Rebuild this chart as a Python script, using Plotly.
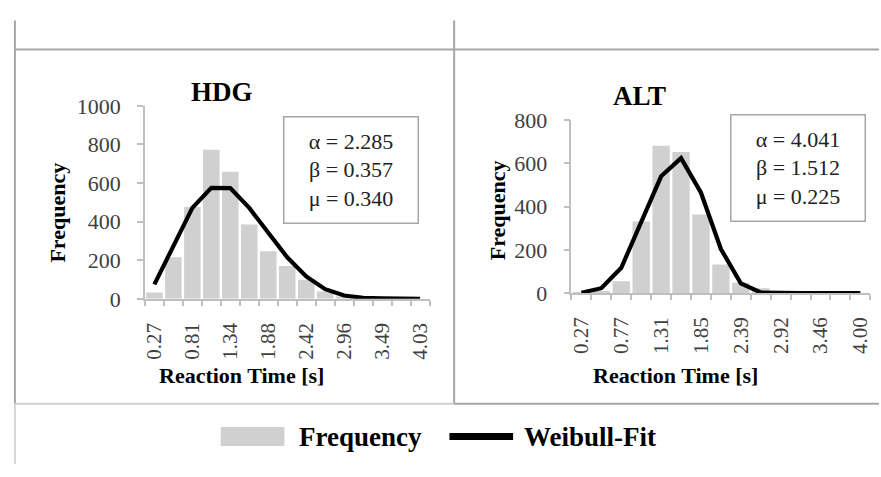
import plotly.graph_objects as go

# ---------------- data ----------------
hdg_times = ["0.27", "0.54", "0.81", "1.07", "1.34", "1.61", "1.88", "2.15",
             "2.42", "2.69", "2.96", "3.22", "3.49", "3.76", "4.03"]
hdg_freq = [33, 215, 476, 773, 658, 385, 246, 170, 99, 38, 12, 4, 1, 0, 0]
hdg_fit = [75, 273, 471, 575, 574, 471, 339, 215, 116, 50, 17, 5, 2, 1, 0]
hdg_params = ["α = 2.285", "β = 0.357", "μ = 0.340"]

alt_times = ["0.27", "0.52", "0.77", "1.04", "1.31", "1.58", "1.85", "2.12",
             "2.39", "2.65", "2.92", "3.19", "3.46", "3.73", "4.00"]
alt_freq = [2, 10, 55, 331, 681, 652, 363, 132, 48, 23, 3, 0, 0, 0, 0]
alt_fit = [2, 23, 117, 325, 540, 624, 464, 204, 45, 3, 0, 0, 0, 0, 0]
alt_params = ["α = 4.041", "β = 1.512", "μ = 0.225"]

W, H = 881, 477
FONT = "Liberation Serif"
BAR_COLOR = "#d0d0d0"
AXIS_COLOR = "#bfbfbf"
BORDER = "#a6a6a6"


def px(x):
    return x / W


def py(y):
    return 1 - y / H


fig = go.Figure()

panels = [
    dict(times=hdg_times, freq=hdg_freq, fit=hdg_fit, xa="x", ya="y"),
    dict(times=alt_times, freq=alt_freq, fit=alt_fit, xa="x2", ya="y2"),
]
for p in panels:
    pos = list(range(1, len(p["times"]) + 1))
    fig.add_trace(go.Bar(x=pos, y=p["freq"], marker_color=BAR_COLOR,
                         marker_line_width=0, name="Frequency",
                         showlegend=False, xaxis=p["xa"], yaxis=p["ya"],
                         hovertext=p["times"]))
    fig.add_trace(go.Scatter(x=pos, y=p["fit"], mode="lines",
                             line=dict(color="black", width=4.2),
                             name="Weibull-Fit", showlegend=False,
                             xaxis=p["xa"], yaxis=p["ya"],
                             hovertext=p["times"]))


def xaxis_cfg(times, domain):
    n = len(times)
    return dict(
        domain=domain, range=[0.5, n + 0.5], showgrid=False, zeroline=False,
        showline=True, linecolor=AXIS_COLOR, linewidth=1.5,
        tickmode="array", tickvals=list(range(1, n + 1, 2)),
        ticktext=times[::2], ticks="", tickangle=-90,
        ticklabelstandoff=14,
        tickfont=dict(family=FONT, size=21, color="#404040"),
        minor=dict(tickmode="array",
                   tickvals=[i + 0.5 for i in range(0, n + 1)],
                   ticks="outside", ticklen=5, tickcolor=AXIS_COLOR,
                   tickwidth=1.5, showgrid=False),
        fixedrange=True,
    )


def yaxis_cfg(maxv, domain, anchor):
    return dict(
        domain=domain, range=[0, maxv], dtick=200, anchor=anchor,
        showgrid=False, zeroline=False, showline=True,
        linecolor=AXIS_COLOR, linewidth=1.5,
        ticks="outside", ticklen=6, tickcolor=AXIS_COLOR, tickwidth=1.5,
        ticklabelstandoff=12,
        tickfont=dict(family=FONT, size=22, color="#404040"),
        fixedrange=True,
    )


fig.update_layout(
    width=W, height=H, margin=dict(l=0, r=0, t=0, b=0),
    paper_bgcolor="white", plot_bgcolor="white", bargap=0.13,
    xaxis=dict(xaxis_cfg(hdg_times, [px(142.7), px(429)]), anchor="y"),
    yaxis=yaxis_cfg(1000, [py(302.7), py(99)], "x"),
    xaxis2=dict(xaxis_cfg(alt_times, [px(571.7), px(872.3)]), anchor="y2"),
    yaxis2=yaxis_cfg(800, [py(296.7), py(114)], "x2"),
    showlegend=False,
)

bold = dict(family=FONT, color="black", weight="bold")

annotations = [
    # panel titles
    dict(text="HDG", x=px(220), y=py(84), font=dict(bold, size=27)),
    dict(text="ALT", x=px(640), y=py(89), font=dict(bold, size=27)),
    # axis titles
    dict(text="Frequency", x=px(55), y=py(212), textangle=-90,
         font=dict(bold, size=22)),
    dict(text="Frequency", x=px(497), y=py(209), textangle=-90,
         font=dict(bold, size=22)),
    dict(text="Reaction Time [s]", x=px(240), y=py(384),
         font=dict(bold, size=22)),
    dict(text="Reaction Time [s]", x=px(676), y=py(384),
         font=dict(bold, size=22)),
    # parameter boxes
    dict(text="<br>".join(hdg_params), x=px(349.5), y=py(166.5),
         width=131, height=103, borderpad=1, bordercolor=BORDER,
         borderwidth=1.5, bgcolor="white",
         font=dict(family=FONT, size=22, color="#222222")),
    dict(text="<br>".join(alt_params), x=px(799.5), y=py(164.5),
         width=131, height=103, borderpad=1, bordercolor=BORDER,
         borderwidth=1.5, bgcolor="white",
         font=dict(family=FONT, size=22, color="#222222")),
    # legend labels
    dict(text="Frequency", x=px(296), y=py(448), xanchor="left",
         font=dict(bold, size=27)),
    dict(text="Weibull-Fit", x=px(522), y=py(448), xanchor="left",
         font=dict(bold, size=27)),
]
for a in annotations:
    a.setdefault("xref", "paper")
    a.setdefault("yref", "paper")
    a.setdefault("showarrow", False)
    a.setdefault("xanchor", "center")
    a.setdefault("yanchor", "middle")
fig.update_layout(annotations=annotations)

shapes = [
    # table grid lines
    dict(type="line", x0=px(12), x1=px(12), y0=py(9), y1=py(413.5),
         line=dict(color=BORDER, width=2)),
    dict(type="line", x0=px(12), x1=px(12), y0=py(413.5), y1=py(477),
         line=dict(color="#d6d6d6", width=2)),
    dict(type="line", x0=px(12), x1=px(881), y0=py(39.5), y1=py(39.5),
         line=dict(color=BORDER, width=2)),
    dict(type="line", x0=px(453.7), x1=px(453.7), y0=py(9), y1=py(413.5),
         line=dict(color=BORDER, width=2)),
    dict(type="line", x0=px(12), x1=px(453.7), y0=py(413.5), y1=py(413.5),
         line=dict(color="#d0d0d0", width=2)),
    dict(type="line", x0=px(453.7), x1=px(881), y0=py(413.5), y1=py(413.5),
         line=dict(color=BORDER, width=2)),
    # legend keys
    dict(type="rect", x0=px(219), x1=px(283), y0=py(458), y1=py(438),
         fillcolor=BAR_COLOR, line=dict(width=0)),
    dict(type="line", x0=px(449), x1=px(513), y0=py(448), y1=py(448),
         line=dict(color="black", width=7)),
]
for s in shapes:
    s["xref"] = "paper"
    s["yref"] = "paper"
fig.update_layout(shapes=shapes)

fig.write_html("out.html")
